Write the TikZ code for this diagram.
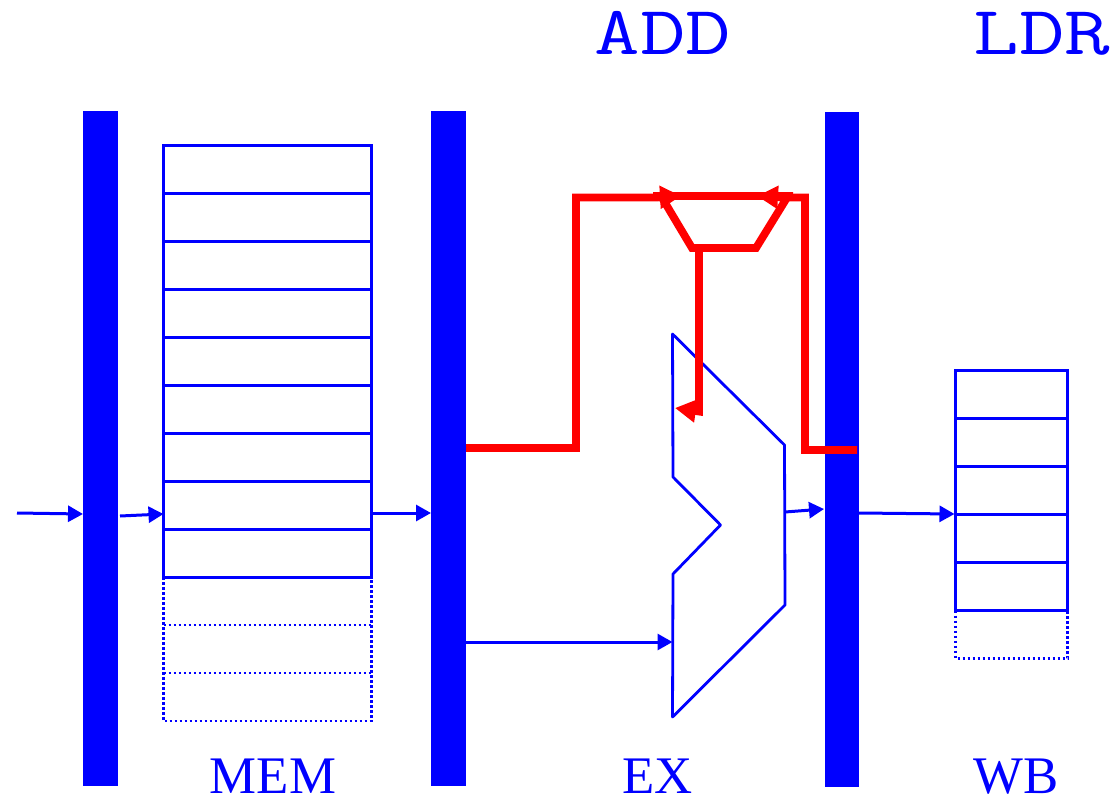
\documentclass[tikz,border=0pt]{standalone}
\usepackage{fontspec}
\setmainfont{Liberation Serif}
\usetikzlibrary{positioning,arrows.meta}

\tikzset{
  latch/.style={fill=blue, minimum width=35pt, minimum height=675pt, inner sep=0pt, outer sep=0pt},
  regcell/.style={draw=blue, line width=3pt, minimum height=48pt, inner sep=0pt, outer sep=0pt},
  regspare/.style={minimum height=48pt, inner sep=0pt, outer sep=0pt},
  spareline/.style={draw=blue, line width=2.6pt, dash pattern=on 2.6pt off 2.4pt},
  stage/.style={text=blue, anchor=base, inner sep=0pt, font=\fontsize{52.8}{52.8}\selectfont},
  instr/.style={text=blue, anchor=base, inner sep=0pt, xscale=1.28, transform shape, font=\ttfamily\fontsize{69}{69}\selectfont},
  wire/.style={draw=blue, line width=3pt, -{Triangle[length=15pt,width=16pt]}},
  hot/.style={draw=red, line width=7.8pt},
  hotwire/.style={hot, -{Triangle[length=21pt,width=22pt]}}
}

\begin{document}
\begin{tikzpicture}[x=1pt, y=-1pt, node distance=0pt]
    \useasboundingbox (0,0) rectangle (1111,795);

    % pipeline latches
    \node[latch] (latchA) at (100.5,448.5) {};
    \node[latch] (latchB) at (448.5,448.5) {};
    \node[latch, minimum width=34pt] (latchC) at (842,449.5) {};

    % register file
    \node[regcell, minimum width=208pt] (mem1) at (267.5,169) {};
    \foreach \i [remember=\i as \j (initially 1)] in {2,...,9}
      \node[regcell, minimum width=208pt, below=of mem\j] (mem\i) {};
    \node[regspare, minimum width=208pt, below=of mem9] (mem10) {};
    \node[regspare, minimum width=208pt, below=of mem10] (mem11) {};
    \node[regspare, minimum width=208pt, below=of mem11] (mem12) {};
    \draw[spareline] (mem10.north west) -- (mem12.south west) -- (mem12.south east) -- (mem10.north east);
    \foreach \i in {10,11}
      \draw[spareline] (mem\i.south west) -- (mem\i.south east);

    % write back registers
    \node[regcell, minimum width=112pt] (wb1) at (1011.5,394.5) {};
    \foreach \i [remember=\i as \j (initially 1)] in {2,...,5}
      \node[regcell, minimum width=112pt, below=of wb\j] (wb\i) {};
    \node[regspare, minimum width=112pt, below=of wb5] (wb6) {};
    \draw[spareline] (wb6.north west) -- (wb6.south west) -- (wb6.south east) -- (wb6.north east);

    % alu
    \coordinate (aluA) at (672.5,642);
    \draw[blue, line width=2.8pt, line join=round] (672.5,334) -- (784.5,445) -- (785,605) -- (672.5,717)
      -- (673,574) -- (720.5,525) -- (673,477) -- cycle;

    % blue wires
    \coordinate (inA) at (17,513);
    \coordinate (inB) at (120,516);
    \coordinate (memO) at (370,513);
    \coordinate (latchBO) at (466,642);
    \coordinate (aluO) at (785,512);
    \coordinate (latchCO) at (859,513);
    \draw[wire] (inA) -- (83,514);
    \draw[wire] (inB) -- (163.5,514);
    \draw[wire] (memO) -- (431,513);
    \draw[wire] (latchBO) -- (aluA);
    \draw[wire] (aluO) -- (824,509);
    \draw[wire] (latchCO) -- (954.5,514);

    % forwarding in red
    \coordinate (fwdL) at (466,448);
    \coordinate (fwdR) at (857,450);
    \coordinate (addL) at (681,196);
    \coordinate (addR) at (757,196);
    \coordinate (addO) at (699,248);
    \draw[hot] (653,196) -- (793,196) (661,196) -- (692,248) -- (756,248) -- (788,196);
    \draw[hotwire] (fwdL) -| (576,197.5) -- (656,197.5) -- (addL);
    \draw[hotwire] (fwdR) -| (805,197.5) -- (782,197.5) -- (addR);
    \draw[hotwire] (addO) -- (699,411.5) -- (675,408);

    % labels
    \node[instr] (add) at (663,54) {ADD};
    \node[instr] (ldr) at (1042,54) {LDR};
    \node[stage] (memlabel) at (273,793) {MEM};
    \node[stage] (exlabel) at (657.5,793) {EX};
    \node[stage] (wblabel) at (1016,793) {WB};
\end{tikzpicture}
\end{document}
